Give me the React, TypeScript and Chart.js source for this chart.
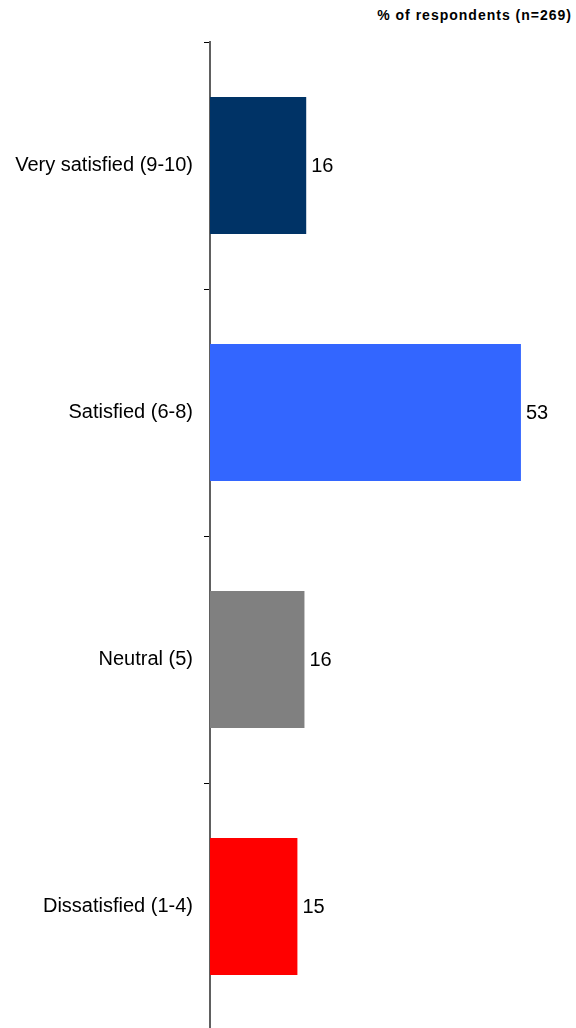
import React, { useEffect, useRef } from "react";
import { Chart, registerables } from "chart.js";

Chart.register(...registerables);

const categories = ["Very satisfied (9-10)", "Satisfied (6-8)", "Neutral (5)", "Dissatisfied (1-4)"];
const values = [16.4, 53, 16.1, 14.9];
const valueLabels = ["16", "53", "16", "15"];
const barColors = ["#003366", "#3366FF", "#808080", "#FF0000"];
const titleText = "% of respondents (n=269)";

const FONT = "'Liberation Sans', Arial, sans-serif";

const valueLabelPlugin = {
  id: "valueLabels",
  afterDatasetsDraw(chart: any) {
    const ctx = chart.ctx;
    const meta = chart.getDatasetMeta(0);
    ctx.save();
    ctx.font = `20px ${FONT}`;
    ctx.fillStyle = "#000";
    ctx.textAlign = "left";
    ctx.textBaseline = "middle";
    meta.data.forEach((el: any, i: number) => {
      ctx.fillText(valueLabels[i], el.x + 5, el.y + 1);
    });
    ctx.restore();
  },
};

export default function App() {
  const ref = useRef<HTMLCanvasElement | null>(null);
  useEffect(() => {
    if (!ref.current) return;
    const chart = new Chart(ref.current, {
      type: "bar",
      data: {
        labels: categories,
        datasets: [
          {
            data: values,
            backgroundColor: barColors,
            borderWidth: 0,
            categoryPercentage: 1,
            barPercentage: 0.555,
          },
        ],
      },
      options: {
        indexAxis: "y",
        responsive: false,
        animation: false,
        devicePixelRatio: 1,
        layout: { padding: { top: 42, bottom: 0, left: 0, right: 14 } },
        plugins: {
          legend: { display: false },
          tooltip: { enabled: false },
          title: { display: false },
        },
        scales: {
          x: { display: false, min: 0, max: 60 },
          y: {
            afterFit(scale: any) {
              scale.width = 210;
              scale.paddingTop = 0;
              scale.paddingBottom = 0;
            },
            grid: {
              display: true,
              drawOnChartArea: false,
              drawTicks: true,
              tickLength: 6,
              tickColor: "#000",
              tickWidth: 1,
              offset: true,
            },
            border: { display: true, color: "#606060", width: 2 },
            ticks: {
              color: "#000",
              padding: 11,
              font: { family: FONT, size: 20 },
            },
          },
        },
      },
      plugins: [valueLabelPlugin],
    });
    return () => chart.destroy();
  }, []);
  return (
    <div style={{ position: "fixed", left: 0, top: 0, width: 576, height: 1028, overflow: "hidden", background: "#fff" }}>
      <div
        style={{
          position: "absolute",
          right: 4,
          top: 7,
          fontFamily: FONT,
          fontWeight: "bold",
          fontSize: 14,
          letterSpacing: "1px",
          color: "#000",
          whiteSpace: "nowrap",
          lineHeight: "16px",
        }}
      >
        {titleText}
      </div>
      <canvas ref={ref} width={576} height={1030} style={{ position: "absolute", left: 0, top: 0 }} />
    </div>
  );
}
